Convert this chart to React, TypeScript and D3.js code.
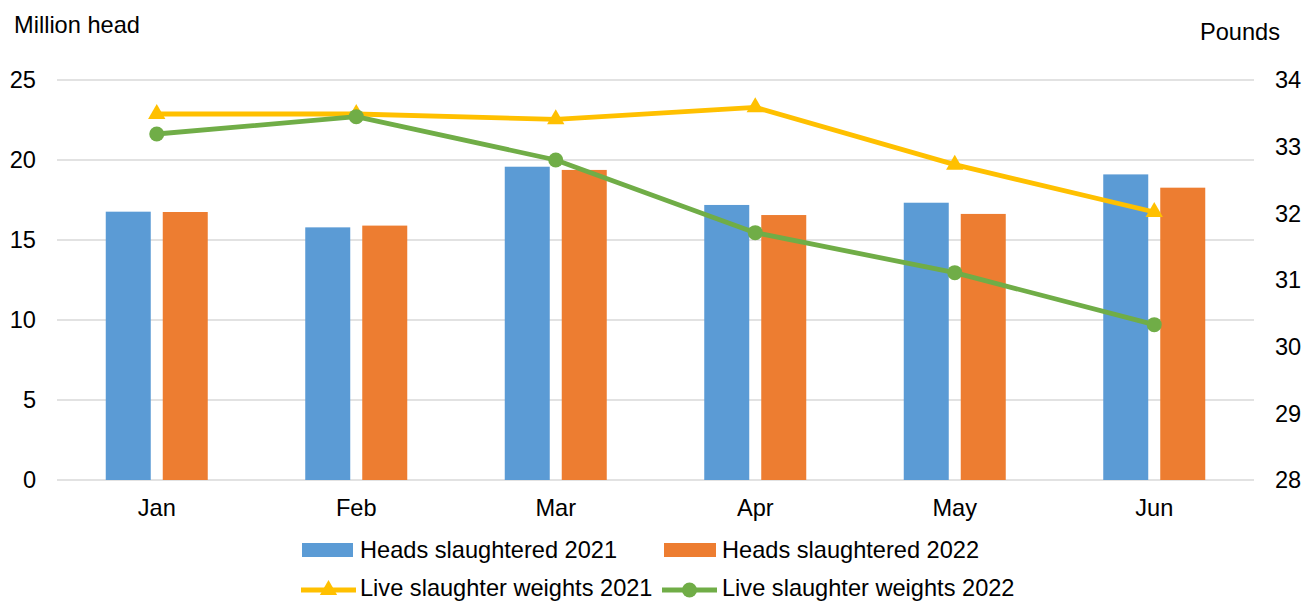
import React from "react";
import * as d3 from "d3";

const months = ["Jan", "Feb", "Mar", "Apr", "May", "Jun"];
const heads2021 = [16.77, 15.79, 19.58, 17.19, 17.33, 19.1];
const heads2022 = [16.75, 15.9, 19.38, 16.56, 16.63, 18.27];
const weights2021 = [33.49, 33.49, 33.41, 33.59, 32.73, 32.02];
const weights2022 = [33.19, 33.45, 32.8, 31.71, 31.11, 30.33];
const leftTicks = [0, 5, 10, 15, 20, 25];
const rightTicks = [28, 29, 30, 31, 32, 33, 34];

const FONT = "'Liberation Sans', Arial, sans-serif";
const BLUE = "#5b9bd5";
const ORANGE = "#ed7d31";
const YELLOW = "#ffc000";
const GREEN = "#70ad47";
const FS = 23.6;

export default function App() {
  const W = 1305;
  const H = 602;
  const x0 = 57;
  const x1 = 1254;
  const yTop = 80;
  const yBot = 480;

  const x = d3.scaleBand<string>().domain(months).range([x0, x1]).padding(0);
  const yL = d3.scaleLinear().domain([0, 25]).range([yBot, yTop]);
  const yR = d3.scaleLinear().domain([28, 34]).range([yBot, yTop]);
  const barW = 45;
  const gap = 12;
  const cx = (m: string) => (x(m) as number) + x.bandwidth() / 2;

  const line21 = d3
    .line<number>()
    .x((_, i) => cx(months[i]))
    .y((d) => yR(d));
  const tri = d3.symbol().type(d3.symbolTriangle).size(130)() as string;

  return (
    <svg
      width={W}
      height={H}
      style={{ position: "absolute", left: 0, top: 0, display: "block" }}
      fontFamily={FONT}
    >
      <rect width={W} height={H} fill="#fff" />
      {leftTicks.map((t) => (
        <line key={t} x1={x0} x2={x1} y1={yL(t)} y2={yL(t)} stroke="#d9d9d9" strokeWidth={1.5} />
      ))}
      {leftTicks.map((t) => (
        <text key={"l" + t} x={36} y={yL(t)} dy="0.35em" textAnchor="end" fontSize={FS} fill="#000">
          {t}
        </text>
      ))}
      {rightTicks.map((t) => (
        <text key={"r" + t} x={1275} y={yR(t)} dy="0.35em" textAnchor="start" fontSize={FS} fill="#000">
          {t}
        </text>
      ))}
      <text x={14} y={33} fontSize={FS}>Million head</text>
      <text x={1280} y={40} fontSize={FS} textAnchor="end">Pounds</text>
      {months.map((m, i) => (
        <g key={m}>
          <rect x={cx(m) - gap / 2 - barW} y={yL(heads2021[i])} width={barW} height={yBot - yL(heads2021[i])} fill={BLUE} />
          <rect x={cx(m) + gap / 2} y={yL(heads2022[i])} width={barW} height={yBot - yL(heads2022[i])} fill={ORANGE} />
          <text x={cx(m)} y={516} textAnchor="middle" fontSize={FS}>{m}</text>
        </g>
      ))}
      <path d={line21(weights2021) as string} fill="none" stroke={YELLOW} strokeWidth={4.8} strokeLinejoin="round" />
      {weights2021.map((v, i) => (
        <path key={"t" + i} d={tri} transform={`translate(${cx(months[i])},${yR(v)})`} fill={YELLOW} />
      ))}
      <path d={line21(weights2022) as string} fill="none" stroke={GREEN} strokeWidth={4.8} strokeLinejoin="round" />
      {weights2022.map((v, i) => (
        <circle key={"c" + i} cx={cx(months[i])} cy={yR(v)} r={7.5} fill={GREEN} />
      ))}
      {/* Legend */}
      <rect x={302} y={543} width={51} height={14} fill={BLUE} />
      <text x={360} y={558} fontSize={FS}>Heads slaughtered 2021</text>
      <rect x={664} y={543} width={52} height={14} fill={ORANGE} />
      <text x={722} y={558} fontSize={FS}>Heads slaughtered 2022</text>
      <line x1={301} x2={356} y1={590} y2={590} stroke={YELLOW} strokeWidth={4.8} />
      <path d={tri} transform="translate(328.5,590)" fill={YELLOW} />
      <text x={360} y={596} fontSize={FS}>Live slaughter weights 2021</text>
      <line x1={662} x2={717} y1={590} y2={590} stroke={GREEN} strokeWidth={4.8} />
      <circle cx={689.5} cy={590} r={7.5} fill={GREEN} />
      <text x={722} y={596} fontSize={FS}>Live slaughter weights 2022</text>
    </svg>
  );
}
